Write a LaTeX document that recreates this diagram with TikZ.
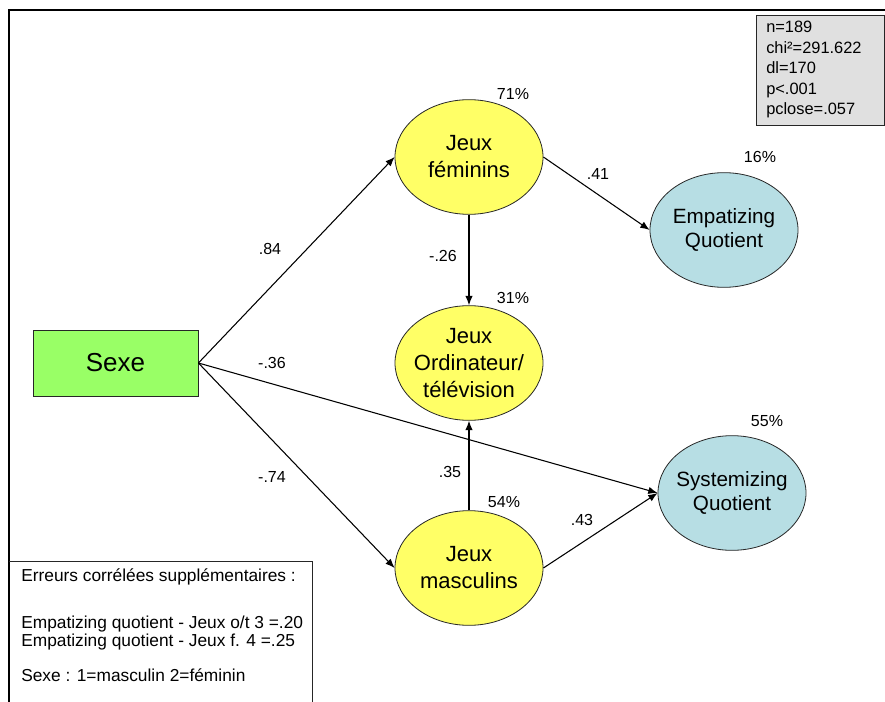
\documentclass[tikz,border=0pt]{standalone}
\usepackage{fontspec}
\setmainfont{Liberation Sans}
\usetikzlibrary{shapes.geometric,arrows.meta}

\definecolor{jeuxyellow}{RGB}{255,255,102}
\definecolor{quotblue}{RGB}{183,222,228}
\definecolor{sexegreen}{RGB}{153,255,102}
\definecolor{statgray}{RGB}{224,224,224}

\tikzset{
  latent/.style={ellipse, draw=black!85, line width=0.6pt, minimum width=111pt,
    minimum height=86pt, inner sep=0pt, align=center},
  jeux/.style={latent, fill=jeuxyellow, font=\fontsize{16.5}{20.25}\selectfont},
  quot/.style={latent, fill=quotblue, font=\fontsize{15.5}{18}\selectfont},
  coef/.style={font=\fontsize{12}{14}\selectfont},
  effet/.style={-{Latex[length=7pt,width=5.5pt]}, line width=0.8pt},
}

\begin{document}
\begin{tikzpicture}[x=0.75pt,y=-0.75pt]
    \useasboundingbox (0,0) rectangle (885,702);
    % cadre
    \draw[line width=1pt] (9,702) -- (9,10) -- (885,10);
    % variables
    \node[draw=black!85, line width=0.6pt, fill=sexegreen, minimum width=123.75pt,
      minimum height=49.5pt, font=\fontsize{19.5}{22}\selectfont] (sexe) at (115.5,363) {Sexe};
    \node[jeux] (fem) at (469,157) {Jeux\\féminins};
    \node[jeux] (ord) at (469,363) {Jeux\\\makebox[0pt]{Ordinateur/}\\télévision};
    \node[jeux] (masc) at (469,568) {Jeux\\masculins};
    \node[quot] (emp) at (724,230) {\makebox[0pt]{Empatizing}\\Quotient};
    \node[quot] (syst) at (732,493) {\makebox[0pt]{Systemizing}\\Quotient};
    % effets
    \draw[effet] (sexe.east) -- (fem.west);
    \draw[effet] (sexe.east) -- (masc.west);
    \draw[effet] (sexe.east) -- (syst.west);
    \draw[effet] (fem.east) -- (emp.west);
    \draw[effet] (fem.south) -- (ord.north);
    \draw[effet] (masc.north) -- (ord.south);
    \draw[effet] (masc.east) -- (syst.west);
    % coefficients
    \node[coef] (c84) at (270,249) {.84};
    \node[coef] (c36) at (272,363) {-.36};
    \node[coef] (c74) at (272,477) {-.74};
    \node[coef] (c41) at (598,174) {.41};
    \node[coef] (c26) at (443,256) {-.26};
    \node[coef] (c35) at (450,472) {.35};
    \node[coef] (c43) at (582,520) {.43};
    % variance expliquee
    \node[coef] (r71) at (513,94) {71\%};
    \node[coef] (r31) at (513,298) {31\%};
    \node[coef] (r54) at (504,502) {54\%};
    \node[coef] (r16) at (760,157) {16\%};
    \node[coef] (r55) at (767,421) {55\%};
    % ajustement
    \draw[black!85, line width=0.6pt, fill=statgray] (756,15) rectangle (884,125);
    \node[coef, anchor=north west, align=left, inner sep=0pt,
      font=\fontsize{12.3}{15.4}\selectfont] (stats) at (766,21)
      {n=189\\chi²=291.622\\dl=170\\p<.001\\pclose=.057};
    % legende
    \draw[black!85, line width=0.6pt] (9,561) -- (312,561) -- (312,702);
    \node[anchor=north west, align=left, inner sep=0pt,
      font=\fontsize{13}{12.9}\selectfont] (legende) at (21,568)
      {Erreurs corrélées supplémentaires :\\[23pt]
       Empatizing quotient - Jeux o/t 3 =.20\\
       Empatizing quotient - Jeux f. 4 =.25\\[14pt]
       Sexe : 1=masculin 2=féminin};
\end{tikzpicture}
\end{document}
